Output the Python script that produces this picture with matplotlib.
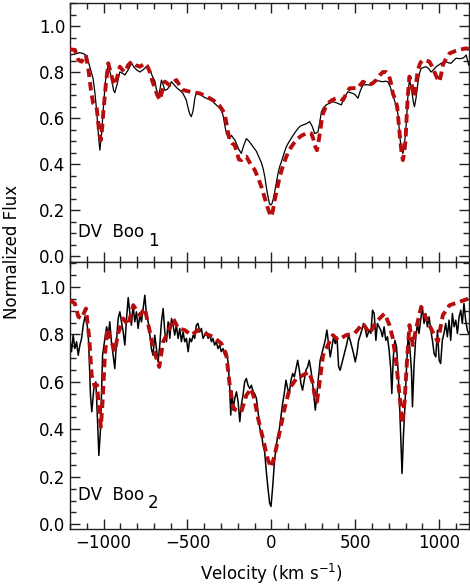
import numpy as np
import matplotlib
matplotlib.use("Agg")
import matplotlib.pyplot as plt
from matplotlib.ticker import MultipleLocator

# ---------------- data ----------------
top_obs_v = [-1200,-1170,-1141,-1120,-1100,-1081,-1062,-1050,-1040,-1030,-1022,-1012,-1002,-990,-982,-972,-955,-940,-933,-918,-903,-888,-873,-853,-833,-818,-804,-784,-764,-744,-724,-708,-694,-684,-675,-665,-655,-645,-635,-620,-605,-596,-580,-566,-545,-527,-515,-507,-495,-485,-477,-467,-455,-447,-432,-417,-400,-387,-368,-348,-333,-318,-300,-288,-278,-268,-258,-249,-238,-229,-218,-209,-195,-179,-165,-149,-134,-119,-104,-89,-74,-59,-49,-39,-30,-20,-12,-6,2,10,20,30,40,50,60,75,89,104,119,139,159,174,189,208,228,243,258,268,278,288,298,308,327,347,367,392,417,436,456,471,486,501,516,531,546,565,585,605,625,645,665,680,694,709,724,739,754,761,768,776,784,792,800,808,815,823,831,839,846,853,863,873,883,893,908,923,937,952,967,982,997,1012,1027,1042,1056,1071,1086,1101,1121,1141,1151,1161,1170,1176]
top_obs_f = [0.874,0.878,0.884,0.88,0.87,0.82,0.77,0.70,0.62,0.52,0.46,0.53,0.635,0.75,0.80,0.83,0.78,0.72,0.71,0.75,0.80,0.795,0.787,0.81,0.838,0.82,0.81,0.80,0.81,0.823,0.81,0.78,0.76,0.72,0.69,0.72,0.765,0.745,0.72,0.725,0.74,0.758,0.745,0.733,0.72,0.707,0.69,0.678,0.64,0.615,0.606,0.63,0.69,0.707,0.71,0.70,0.69,0.686,0.68,0.671,0.66,0.65,0.635,0.613,0.57,0.533,0.52,0.51,0.525,0.515,0.505,0.49,0.465,0.446,0.48,0.51,0.50,0.485,0.47,0.455,0.43,0.405,0.38,0.345,0.30,0.258,0.23,0.222,0.225,0.243,0.28,0.32,0.36,0.39,0.41,0.445,0.475,0.495,0.512,0.535,0.555,0.565,0.57,0.575,0.584,0.565,0.533,0.535,0.54,0.58,0.625,0.642,0.657,0.665,0.671,0.665,0.657,0.69,0.714,0.71,0.707,0.70,0.686,0.72,0.743,0.745,0.743,0.755,0.765,0.76,0.758,0.76,0.758,0.735,0.70,0.665,0.62,0.56,0.504,0.465,0.446,0.48,0.533,0.62,0.71,0.765,0.74,0.707,0.67,0.649,0.69,0.75,0.795,0.816,0.82,0.823,0.815,0.80,0.81,0.823,0.83,0.838,0.84,0.845,0.84,0.838,0.85,0.86,0.858,0.86,0.865,0.874,0.85,0.83]

top_mod_v = [-1200,-1171,-1150,-1131,-1106,-1090,-1075,-1062,-1052,-1042,-1033,-1026,-1016,-1008,-1002,-986,-972,-955,-940,-933,-918,-903,-888,-873,-853,-833,-808,-784,-769,-754,-739,-724,-709,-694,-680,-664,-650,-635,-620,-605,-585,-566,-545,-527,-500,-477,-452,-427,-390,-348,-310,-278,-264,-249,-234,-219,-205,-194,-179,-164,-149,-124,-99,-79,-59,-45,-30,-15,0,10,20,35,50,70,89,104,119,139,159,184,208,228,238,250,262,272,282,292,300,308,322,337,362,387,407,427,446,466,491,516,531,546,565,585,605,625,645,665,683,700,712,724,738,750,760,768,776,784,792,800,806,813,823,831,839,846,853,863,873,888,903,922,942,957,972,987,1002,1012,1022,1042,1062,1092,1121,1141,1161,1176]
top_mod_f = [0.899,0.896,0.852,0.845,0.874,0.81,0.72,0.664,0.655,0.65,0.59,0.533,0.504,0.56,0.62,0.75,0.838,0.79,0.75,0.743,0.78,0.823,0.81,0.80,0.83,0.845,0.83,0.823,0.83,0.838,0.825,0.80,0.76,0.729,0.70,0.678,0.72,0.758,0.75,0.743,0.755,0.765,0.74,0.722,0.717,0.714,0.71,0.707,0.695,0.678,0.655,0.62,0.56,0.504,0.49,0.483,0.45,0.42,0.417,0.43,0.432,0.40,0.374,0.34,0.30,0.265,0.229,0.195,0.171,0.20,0.243,0.295,0.345,0.395,0.432,0.455,0.475,0.495,0.512,0.525,0.533,0.535,0.533,0.51,0.475,0.46,0.50,0.548,0.59,0.62,0.645,0.664,0.678,0.686,0.685,0.678,0.705,0.729,0.73,0.729,0.745,0.758,0.75,0.743,0.752,0.765,0.785,0.80,0.80,0.787,0.755,0.707,0.68,0.649,0.57,0.504,0.45,0.417,0.45,0.504,0.60,0.693,0.78,0.76,0.736,0.71,0.693,0.75,0.809,0.84,0.852,0.85,0.845,0.825,0.80,0.775,0.758,0.79,0.83,0.86,0.881,0.89,0.896,0.90,0.903,0.90]

bot_obs_v = [-1201,-1191,-1181,-1171,-1161,-1151,-1141,-1131,-1121,-1111,-1101,-1092,-1086,-1078,-1070,-1058,-1046,-1038,-1028,-1018,-1006,-992,-982,-972,-963,-953,-943,-933,-923,-913,-903,-893,-883,-873,-863,-853,-844,-834,-824,-814,-804,-794,-784,-774,-764,-754,-744,-734,-724,-715,-705,-695,-685,-675,-665,-655,-645,-635,-625,-615,-605,-595,-586,-576,-566,-556,-546,-536,-526,-516,-506,-496,-486,-476,-466,-457,-447,-437,-427,-417,-407,-397,-387,-377,-367,-357,-348,-338,-328,-318,-308,-298,-288,-278,-268,-258,-248,-242,-234,-228,-218,-208,-198,-188,-179,-169,-159,-149,-139,-129,-119,-109,-99,-89,-79,-69,-60,-50,-40,-30,-20,-10,-2,8,18,28,38,47,57,67,77,87,97,107,117,127,137,147,157,167,176,186,196,206,216,226,236,246,256,262,270,281,291,301,311,321,331,341,351,361,371,381,391,401,410,420,430,440,450,460,470,480,490,500,510,520,530,539,549,559,569,583,593,603,613,623,632,642,652,662,672,682,692,702,712,718,727,736,746,755,764,771,779,787,795,805,815,825,835,841,851,861,871,880,890,900,910,920,930,940,950,960,970,980,990,1000,1009,1019,1029,1039,1049,1059,1069,1079,1089,1099,1109,1119,1129,1138,1148,1158,1168,1176]
bot_obs_f = [0.783,0.727,0.797,0.74,0.769,0.712,0.755,0.783,0.839,0.874,0.853,0.81,0.712,0.544,0.474,0.572,0.60,0.474,0.29,0.404,0.712,0.783,0.832,0.797,0.853,0.769,0.712,0.656,0.769,0.867,0.895,0.853,0.81,0.755,0.867,0.955,0.895,0.839,0.923,0.853,0.895,0.825,0.881,0.853,0.909,0.965,0.881,0.853,0.797,0.74,0.712,0.797,0.74,0.684,0.755,0.853,0.909,0.81,0.769,0.853,0.783,0.867,0.839,0.797,0.839,0.783,0.825,0.769,0.81,0.769,0.783,0.727,0.783,0.769,0.797,0.783,0.839,0.846,0.81,0.825,0.783,0.797,0.81,0.783,0.797,0.769,0.783,0.755,0.769,0.74,0.755,0.727,0.74,0.712,0.727,0.684,0.572,0.46,0.56,0.48,0.53,0.558,0.516,0.432,0.502,0.544,0.60,0.614,0.586,0.572,0.586,0.558,0.55,0.53,0.474,0.404,0.39,0.334,0.306,0.222,0.151,0.088,0.075,0.158,0.257,0.327,0.369,0.397,0.453,0.509,0.551,0.607,0.572,0.551,0.607,0.635,0.621,0.656,0.691,0.649,0.593,0.565,0.607,0.649,0.663,0.691,0.649,0.593,0.523,0.481,0.537,0.621,0.691,0.719,0.747,0.775,0.818,0.761,0.705,0.747,0.789,0.761,0.789,0.663,0.649,0.677,0.705,0.733,0.761,0.796,0.775,0.747,0.719,0.684,0.719,0.775,0.796,0.818,0.846,0.825,0.789,0.818,0.804,0.902,0.888,0.775,0.846,0.832,0.818,0.79,0.832,0.775,0.79,0.733,0.649,0.551,0.705,0.775,0.747,0.649,0.509,0.369,0.214,0.369,0.481,0.649,0.79,0.747,0.649,0.495,0.677,0.79,0.846,0.804,0.86,0.916,0.846,0.888,0.832,0.874,0.818,0.775,0.719,0.705,0.818,0.691,0.677,0.775,0.804,0.846,0.79,0.86,0.775,0.888,0.832,0.86,0.804,0.874,0.902,0.846,0.93,0.86,0.818,0.804]

bot_mod_v = [-1200,-1171,-1150,-1131,-1105,-1085,-1071,-1052,-1038,-1026,-1016,-1006,-992,-978,-953,-933,-913,-883,-853,-823,-784,-754,-724,-698,-668,-645,-615,-585,-555,-516,-477,-437,-397,-348,-298,-268,-248,-229,-210,-193,-179,-149,-119,-99,-79,-60,-40,-20,0,20,50,79,109,149,188,224,245,258,272,288,308,337,367,397,446,496,546,585,625,675,704,724,744,764,780,794,808,823,843,863,893,932,962,992,1022,1062,1121,1176]
bot_mod_f = [0.944,0.93,0.874,0.867,0.909,0.783,0.628,0.579,0.586,0.474,0.41,0.516,0.712,0.825,0.769,0.727,0.804,0.867,0.839,0.923,0.881,0.909,0.81,0.727,0.663,0.769,0.81,0.867,0.825,0.818,0.797,0.818,0.804,0.79,0.762,0.712,0.586,0.495,0.48,0.474,0.474,0.544,0.572,0.52,0.446,0.39,0.33,0.27,0.24,0.292,0.39,0.488,0.572,0.614,0.628,0.642,0.60,0.544,0.516,0.60,0.712,0.755,0.797,0.776,0.797,0.804,0.846,0.804,0.853,0.888,0.839,0.783,0.684,0.544,0.425,0.516,0.684,0.839,0.755,0.825,0.916,0.853,0.81,0.769,0.881,0.923,0.937,0.951]

labels = ["DV  Boo", "DV  Boo"]
subs = ["1", "2"]
yticks = [0.0, 0.2, 0.4, 0.6, 0.8, 1.0]
xticks = [-1000, -500, 0, 500, 1000]

# ---------------- figure ----------------
plt.rcParams['font.family'] = ['DejaVu Sans']
fig = plt.figure(figsize=(4.7, 5.87), dpi=100)
W, H = 470.0, 587.0
left, right = 70 / W, 468.5 / W
ax_top = fig.add_axes([left, 1 - 262 / H, right - left, (262 - 3) / H])
ax_bot = fig.add_axes([left, 1 - 529 / H, right - left, (529 - 262) / H])

red = '#b80d0d'
datasets = [
    (ax_top, top_obs_v, top_obs_f, top_mod_v, top_mod_f, (-0.026, 1.10)),
    (ax_bot, bot_obs_v, bot_obs_f, bot_mod_v, bot_mod_f, (-0.02, 1.105)),
]
for i, (ax, ov, of, mv, mf, yl) in enumerate(datasets):
    ax.plot(ov, of, color='black', lw=0.9 if i == 0 else 1.1, zorder=2)
    ax.plot(mv, mf, color=red, lw=2.8, dashes=[2.2, 1.3], zorder=3)
    ax.set_xlim(-1200, 1175)
    ax.set_ylim(*yl)
    ax.set_yticks(yticks)
    ax.set_xticks(xticks)
    ax.xaxis.set_minor_locator(MultipleLocator(100))
    ax.yaxis.set_minor_locator(MultipleLocator(0.05))
    ax.tick_params(which='both', direction='in', top=True, right=True,
                   labelsize=12, colors='#222222', labelcolor='black')
    ax.tick_params(which='major', length=7, width=1.0)
    ax.tick_params(which='minor', length=4, width=1.0)
    ax.set_yticklabels([f"{t:.1f}" for t in yticks])
    for s in ax.spines.values():
        s.set_linewidth(1.0)
        s.set_color('#222222')
    ax.text(0.02, 0.116 if i == 0 else 0.127, labels[i], transform=ax.transAxes,
            fontsize=12, ha='left', va='center')
    ax.text(0.196, 0.083 if i == 0 else 0.097, subs[i],
            transform=ax.transAxes, fontsize=12, ha='left', va='center')

ax_top.tick_params(labelbottom=False)
ax_bot.set_xticklabels(["\u22121000", "\u2212500", "0", "500", "1000"])

fig.text(0.026, 0.571, 'Normalized Flux', rotation=90, fontsize=12,
         ha='center', va='center')
fig.text(0.577, 0.022, r'Velocity (km s$^{-1}$)', fontsize=12,
         ha='center', va='center')

fig.savefig('out.png', dpi=100)
